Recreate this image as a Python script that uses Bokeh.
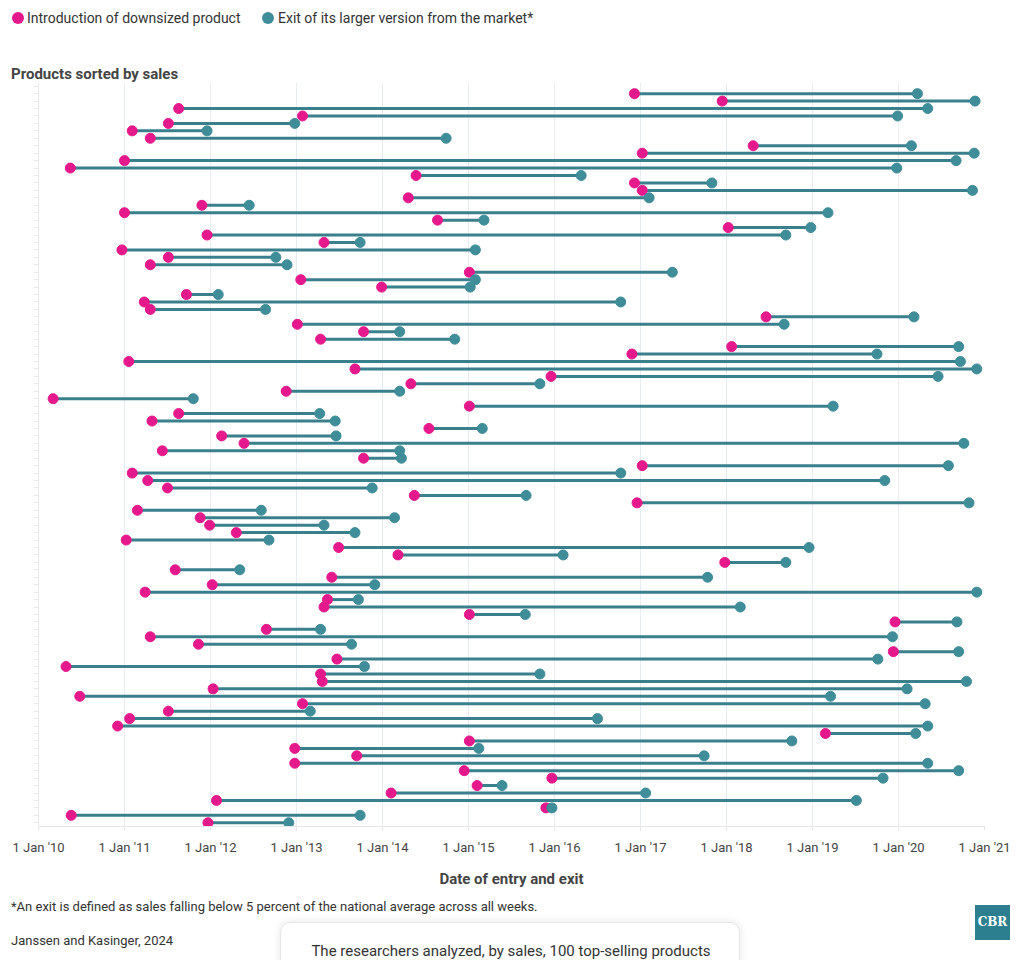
from bokeh.plotting import figure
from bokeh.models import Range1d, FixedTicker, ColumnDataSource, Div
from bokeh.layouts import column
from bokeh.embed import file_html
from bokeh.resources import INLINE

# ---------------- data (decimal years) ----------------
entry = [2016.93, 2017.95, 2011.63, 2013.07, 2011.51, 2011.09, 2011.30, 2018.31, 2017.02, 2011.00,
         2010.37, 2014.39, 2016.93, 2017.02, 2014.30, 2011.90, 2011.00, 2014.64, 2018.02, 2011.96,
         2013.32, 2010.97, 2011.51, 2011.30, 2015.01, 2013.05, 2013.99, 2011.72, 2011.23, 2011.30,
         2018.46, 2013.01, 2013.78, 2013.28, 2018.06, 2016.90, 2011.05, 2013.68, 2015.96, 2014.33,
         2012.88, 2010.17, 2015.01, 2011.63, 2011.32, 2014.54, 2012.13, 2012.39, 2011.44, 2013.78,
         2017.02, 2011.09, 2011.27, 2011.50, 2014.37, 2016.96, 2011.15, 2011.88, 2011.99, 2012.30,
         2011.02, 2013.49, 2014.18, 2017.98, 2011.59, 2013.41, 2012.02, 2011.24, 2013.36, 2013.32,
         2015.01, 2019.96, 2012.65, 2011.30, 2011.86, 2019.94, 2013.47, 2010.32, 2013.28, 2013.30,
         2012.03, 2010.48, 2013.07, 2011.51, 2011.06, 2010.92, 2019.15, 2015.01, 2012.98, 2013.70,
         2012.98, 2014.95, 2015.97, 2015.10, 2014.10, 2012.07, 2015.90, 2010.38, 2011.97]

exit_ = [2020.22, 2020.89, 2020.34, 2019.99, 2012.98, 2011.96, 2014.74, 2020.15, 2020.88, 2020.67,
         2019.98, 2016.31, 2017.83, 2020.86, 2017.10, 2012.45, 2019.18, 2015.18, 2018.98, 2018.69,
         2013.74, 2015.08, 2012.76, 2012.89, 2017.37, 2015.08, 2015.02, 2012.09, 2016.77, 2012.64,
         2020.18, 2018.67, 2014.20, 2014.84, 2020.70, 2019.75, 2020.72, 2020.91, 2020.46, 2015.83,
         2014.20, 2011.80, 2019.24, 2013.27, 2013.45, 2015.16, 2013.46, 2020.76, 2014.20, 2014.22,
         2020.58, 2016.77, 2019.84, 2013.88, 2015.67, 2020.82, 2012.59, 2014.14, 2013.32, 2013.68,
         2012.68, 2018.96, 2016.10, 2018.69, 2012.34, 2017.78, 2013.91, 2020.91, 2013.72, 2018.16,
         2015.66, 2020.68, 2013.28, 2019.93, 2013.64, 2020.70, 2019.76, 2013.79, 2015.83, 2020.79,
         2020.10, 2019.21, 2020.31, 2013.16, 2016.50, 2020.34, 2020.20, 2018.76, 2015.12, 2017.74,
         2020.34, 2020.70, 2019.82, 2015.39, 2017.06, 2019.51, 2015.97, 2013.74, 2012.91]

rank = list(range(1, len(entry) + 1))

tick_years = [2010, 2011, 2012, 2013, 2014, 2015, 2016, 2017, 2018, 2019, 2020, 2021]
tick_labels = ["1 Jan '10", "1 Jan '11", "1 Jan '12", "1 Jan '13", "1 Jan '14", "1 Jan '15",
               "1 Jan '16", "1 Jan '17", "1 Jan '18", "1 Jan '19", "1 Jan '20", "1 Jan '21"]

legend_labels = ["Introduction of downsized product", "Exit of its larger version from the market*"]
y_title = "Products sorted by sales"
x_title = "Date of entry and exit"
footnote = "*An exit is defined as sales falling below 5 percent of the national average across all weeks."
source_txt = "Janssen and Kasinger, 2024"
card_txt = "The researchers analyzed, by sales, 100 top-selling products"

PINK = "#e5198b"
TEAL = "#3f8d99"
LINE = "#3a7f8c"
TXT = "#333333"
FONT = "Roboto"
W = 1012

# ---------------- top block: legend + y title ----------------
top_html = f"""
<div style="position:relative;width:{W}px;height:82px;font-family:Roboto,sans-serif;">
  <span style="position:absolute;left:12px;top:12px;width:12px;height:12px;border-radius:50%;background:{PINK};"></span>
  <span style="position:absolute;left:27px;top:9px;line-height:18px;font-size:14px;color:{TXT};white-space:nowrap;">{legend_labels[0]}</span>
  <span style="position:absolute;left:262px;top:12px;width:12px;height:12px;border-radius:50%;background:{TEAL};"></span>
  <span style="position:absolute;left:278px;top:9px;line-height:18px;font-size:14px;color:{TXT};white-space:nowrap;">{legend_labels[1]}</span>
  <span style="position:absolute;left:11px;top:67px;line-height:15px;font-size:15px;font-weight:bold;color:#444;white-space:nowrap;">{y_title}</span>
</div>
"""
top_div = Div(text=top_html, width=W, height=82, margin=0)

# ---------------- main plot ----------------
src = ColumnDataSource(dict(rank=rank, entry=entry, exit=exit_))

p = figure(width=W, height=808, output_backend="svg", toolbar_location=None,
           x_range=Range1d(2010, 2021), y_range=Range1d(99.5, -0.5),
           min_border_left=38, min_border_right=28, min_border_top=0, min_border_bottom=61,
           title=None, background_fill_color="white", border_fill_color="white", margin=0)
p.outline_line_color = None

p.segment(x0="entry", y0="rank", x1="exit", y1="rank", source=src,
          line_color=LINE, line_width=3)
p.scatter(x="entry", y="rank", source=src, size=10, fill_color=PINK, line_color=PINK)
p.scatter(x="exit", y="rank", source=src, size=10, fill_color=TEAL, line_color=TEAL)

xa = p.xaxis[0]
xa.ticker = FixedTicker(ticks=tick_years)
xa.major_label_overrides = {y: lab for y, lab in zip(tick_years, tick_labels)}
xa.major_label_text_font = FONT
xa.major_label_text_font_size = "13px"
xa.major_label_text_color = "#444444"
xa.major_label_standoff = 9
xa.axis_line_color = "#e6e6e6"
xa.major_tick_line_color = "#e6e6e6"
xa.major_tick_out = 4
xa.major_tick_in = 0
xa.minor_tick_line_color = None
xa.axis_label = x_title
xa.axis_label_text_font = FONT
xa.axis_label_text_font_style = "bold"
xa.axis_label_text_font_size = "15px"
xa.axis_label_text_color = "#444444"
xa.axis_label_standoff = 12

ya = p.yaxis[0]
ya.ticker = FixedTicker(ticks=list(range(0, 100)))
ya.major_label_overrides = {i: "" for i in range(0, 100)}
ya.major_label_standoff = 0
ya.major_tick_out = 5
ya.major_tick_in = 0
ya.major_tick_line_color = "#ebebeb"
ya.axis_line_color = "#ebebeb"
ya.minor_tick_line_color = None

p.xgrid.grid_line_color = "#e8edf1"
p.ygrid.visible = False

# ---------------- bottom block: footnote, source, logo, card ----------------
bot_html = f"""
<div style="position:relative;width:{W}px;height:70px;overflow:hidden;font-family:Roboto,sans-serif;">
  <span style="position:absolute;left:11px;top:8px;line-height:18px;font-size:13px;color:{TXT};white-space:nowrap;">{footnote}</span>
  <span style="position:absolute;left:11px;top:42px;line-height:18px;font-size:13px;color:{TXT};white-space:nowrap;">{source_txt}</span>
  <div style="position:absolute;left:975px;top:15px;width:35px;height:35px;background:#2b7f8e;color:white;
              font-family:'DejaVu Serif',serif;font-weight:bold;font-size:12px;line-height:35px;text-align:center;">CBR</div>
  <div style="position:absolute;left:280px;top:32px;width:460px;height:60px;background:white;border:1px solid #e6e6e6;
              border-radius:10px;box-shadow:0 0 8px rgba(0,0,0,0.10);"></div>
  <span style="position:absolute;left:280px;top:53px;width:462px;text-align:center;line-height:16px;font-size:15px;color:{TXT};white-space:nowrap;">{card_txt}</span>
</div>
"""
bot_div = Div(text=bot_html, width=W, height=70, margin=0)

layout = column(top_div, p, bot_div, spacing=0, margin=0)

open("out.html", "w").write(file_html(layout, INLINE))
